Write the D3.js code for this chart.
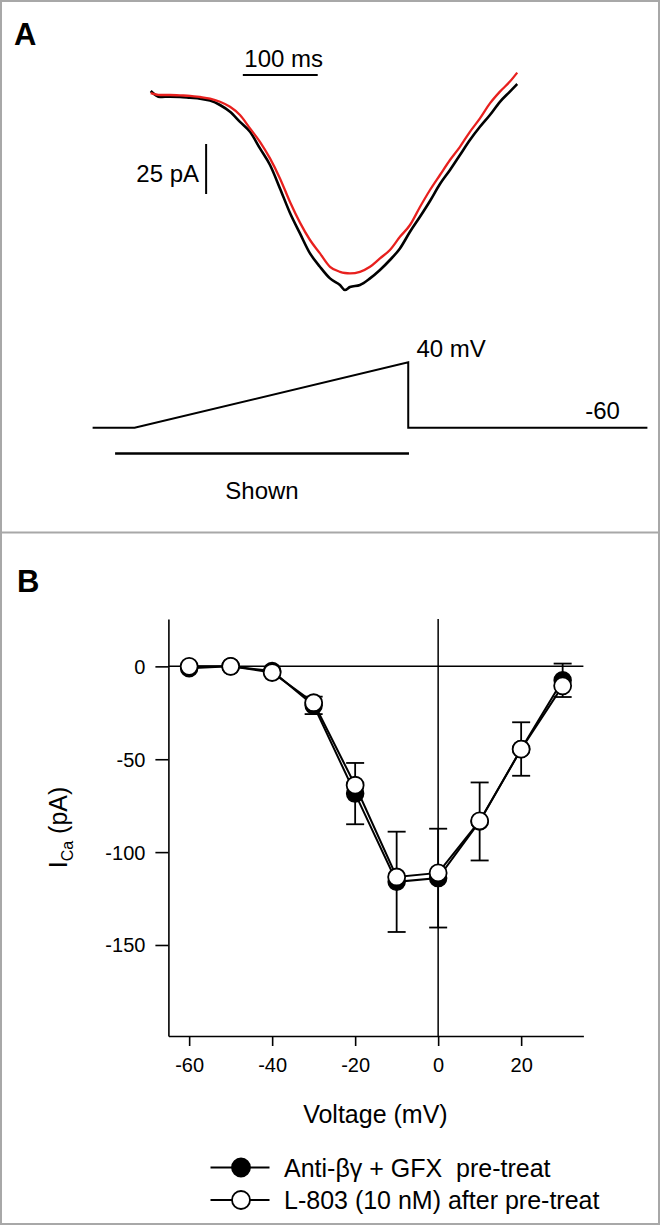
<!DOCTYPE html>
<html><head><meta charset="utf-8">
<script src="https://cdn.jsdelivr.net/npm/d3@7"></script>
<style>
html,body{margin:0;padding:0;background:#fff;}
svg text{font-family:"Liberation Sans",Arial,sans-serif;fill:#000;}
</style></head>
<body>
<svg id="chart" width="660" height="1225"></svg>
<script>
// ---------- Panel A data (ms, pA) ----------
const traceTime = [0,12.4,25.8,39.1,52.5,65.8,79.2,92.5,105.9,119.2,132.6,145.9,159.3,172.6,186,199.3,212.7,226,239.4,252.7,259.4,266,279.4,292.8,306.1,319.4,332.8,346.2,359.5,372.9,386.2,399.6,412.9,426.2,439.6,452.9,466.3,479.6,489.4];
const traceBlack = [2,-1,-0.8,-1,-1.4,-1.8,-2.8,-5,-8.4,-13.4,-18.4,-26.7,-35,-46.7,-59,-69.2,-79.2,-85.9,-91.7,-95,-97.5,-96,-95,-91.7,-87.5,-82.5,-76.7,-68.4,-60.9,-53,-44.5,-37.5,-30,-22.5,-15.9,-10,-3.4,1.7,5.5];
const traceRed   = [0.9,0,0,-0.2,-0.4,-1,-1.8,-3.4,-5.9,-10,-16.7,-23.4,-31.7,-41.7,-53.5,-63.8,-72.5,-79.2,-85.9,-88.4,-89,-89.2,-88.4,-85.9,-81.7,-77.5,-70.9,-65,-56,-47.5,-40,-32.5,-25.9,-18.4,-11.7,-4.2,1.7,6.7,11.2];
const protoTime = [0,56,421,421,740];
const protoVolt = [-60,-60,40,-60,-60];
const shownRange = [30,422];

// ---------- Panel B data ----------
const voltages = [-60,-50,-40,-30,-20,-10,0,10,20,30];
const filledI = [-1,0,-2.5,-21,-68.5,-116,-114,-83.5,-44.5,-7.5];
const filledErr = [0,0,0,4.7,16.5,27,26.6,21,14.4,9];
const openI = [0,0,-3.3,-19.6,-64,-113.4,-111.2,-83.2,-44.6,-10.5];
const xTicks = [-60,-40,-20,0,20];
const yTicks = [0,-50,-100,-150];
const legendLabels = ["Anti-\u03B2\u03B3 + GFX\u00A0 pre-treat","L-803 (10 nM) after pre-treat"];

const svg = d3.select("#chart");

// frame
svg.append("rect").attr("x",1).attr("y",1).attr("width",658).attr("height",1223)
  .attr("fill","none").attr("stroke","#a8a8a8").attr("stroke-width",2);
svg.append("line").attr("x1",0).attr("x2",660).attr("y1",532.5).attr("y2",532.5)
  .attr("stroke","#a8a8a8").attr("stroke-width",2);

// panel labels
svg.append("text").attr("x",14).attr("y",45).attr("font-size",31).attr("font-weight","bold").text("A");
svg.append("text").attr("x",17).attr("y",592).attr("font-size",31).attr("font-weight","bold").text("B");

// ---------- Panel A ----------
const tScale = d3.scaleLinear().domain([0,490]).range([150.7,517.7]);
const iScale = d3.scaleLinear().domain([0,-100]).range([95,295]);

const traceLine = (vals) => d3.line().curve(d3.curveMonotoneX).x((d,i)=>tScale(traceTime[i])).y(d=>iScale(d))(vals);
svg.append("path").attr("d",traceLine(traceBlack)).attr("fill","none").attr("stroke","#000").attr("stroke-width",2.6).attr("stroke-linejoin","round");
svg.append("path").attr("d",traceLine(traceRed)).attr("fill","none").attr("stroke","#e8201e").attr("stroke-width",2.3).attr("stroke-linejoin","round");

// scale bars
svg.append("line").attr("x1",tScale(123)).attr("x2",tScale(223)).attr("y1",75).attr("y2",75).attr("stroke","#000").attr("stroke-width",2);
svg.append("text").attr("x",tScale(125)).attr("y",67).attr("font-size",24).text("100 ms");
svg.append("line").attr("x1",tScale(74)).attr("x2",tScale(74)).attr("y1",iScale(-24.5)).attr("y2",iScale(-49.5)).attr("stroke","#000").attr("stroke-width",2);
svg.append("text").attr("x",tScale(64.5)).attr("y",182).attr("text-anchor","end").attr("font-size",24).text("25 pA");

// voltage protocol
const pScale = d3.scaleLinear().domain([0,740]).range([92.6,647.4]);
const vScale = d3.scaleLinear().domain([-60,40]).range([427.7,362.3]);
svg.append("path").attr("d",d3.line().x((d,i)=>pScale(protoTime[i])).y(d=>vScale(d))(protoVolt))
  .attr("fill","none").attr("stroke","#000").attr("stroke-width",2);
svg.append("line").attr("x1",pScale(shownRange[0])).attr("x2",pScale(shownRange[1])).attr("y1",453.5).attr("y2",453.5).attr("stroke","#000").attr("stroke-width",2.6);
svg.append("text").attr("x",pScale(432)).attr("y",357).attr("font-size",24).text("40 mV");
svg.append("text").attr("x",pScale(657)).attr("y",419).attr("font-size",24).text("-60");
svg.append("text").attr("x",(pScale(shownRange[0])+pScale(shownRange[1]))/2).attr("y",499).attr("text-anchor","middle").attr("font-size",24).text("Shown");

// ---------- Panel B ----------
const x = d3.scaleLinear().domain([-65,35]).range([168.4,583.4]);
const y = d3.scaleLinear().domain([-199,25.5]).range([1036,619]);

const fmt = d => String(d);
const gx = svg.append("g").attr("transform",`translate(0,${y(-199)})`)
  .call(d3.axisBottom(x).tickValues(xTicks).tickFormat(fmt).tickSize(10).tickSizeOuter(0).tickPadding(8));
const gy = svg.append("g").attr("transform",`translate(${x(-65)},0)`)
  .call(d3.axisLeft(y).tickValues(yTicks).tickFormat(fmt).tickSize(13).tickSizeOuter(0).tickPadding(10));
[gx,gy].forEach(g=>{
  g.selectAll("path.domain").attr("stroke","#000").attr("stroke-width",1.6);
  g.selectAll(".tick line").attr("stroke","#000").attr("stroke-width",1.6);
  g.selectAll(".tick text").attr("font-size",20).attr("font-family","Liberation Sans, Arial, sans-serif").attr("fill","#000");
});
gx.selectAll(".tick text").attr("dy","0.9em");
gy.selectAll(".tick text").attr("dy","0.35em");

// zero lines
svg.append("line").attr("x1",x(-65)).attr("x2",x(35)).attr("y1",y(0)).attr("y2",y(0)).attr("stroke","#000").attr("stroke-width",1.5);
svg.append("line").attr("x1",x(0)).attr("x2",x(0)).attr("y1",y(25.5)).attr("y2",y(-199)).attr("stroke","#000").attr("stroke-width",1.5);

// axis titles
svg.append("text").attr("x",(x(-65)+x(35))/2-0.5).attr("y",1123).attr("text-anchor","middle").attr("font-size",25).text("Voltage (mV)");
const yl = svg.append("text").attr("transform",`translate(67,${(y(25.5)+y(-199))/2}) rotate(-90)`).attr("text-anchor","middle").attr("font-size",25);
yl.append("tspan").text("I");
yl.append("tspan").attr("font-size",16).attr("dy",6).text("Ca");
yl.append("tspan").attr("dy",-6).text(" (pA)");

// error bars (filled series)
const eb = svg.append("g");
voltages.forEach((v,i)=>{
  if(!filledErr[i]) return;
  const top = y(filledI[i]+filledErr[i]), bot = y(filledI[i]-filledErr[i]);
  eb.append("line").attr("x1",x(v)).attr("x2",x(v)).attr("y1",top).attr("y2",bot).attr("stroke","#000").attr("stroke-width",1.8);
  [top,bot].forEach(yy=>eb.append("line").attr("x1",x(v)-9).attr("x2",x(v)+9).attr("y1",yy).attr("y2",yy).attr("stroke","#000").attr("stroke-width",1.8));
});

const seriesLine = (vals) => d3.line().x((d,i)=>x(voltages[i])).y(d=>y(d))(vals);
svg.append("path").attr("d",seriesLine(filledI)).attr("fill","none").attr("stroke","#000").attr("stroke-width",2);
svg.append("path").attr("d",seriesLine(openI)).attr("fill","none").attr("stroke","#000").attr("stroke-width",2);
svg.append("g").selectAll("circle").data(filledI).join("circle")
  .attr("cx",(d,i)=>x(voltages[i])).attr("cy",d=>y(d)).attr("r",8.5)
  .attr("fill","#000").attr("stroke","#000").attr("stroke-width",1.5);
svg.append("g").selectAll("circle").data(openI).join("circle")
  .attr("cx",(d,i)=>x(voltages[i])).attr("cy",d=>y(d)).attr("r",8.5)
  .attr("fill","#fff").attr("stroke","#000").attr("stroke-width",1.8);

// legend
const legY = [1167.5,1200];
legendLabels.forEach((lab,i)=>{
  const g = svg.append("g");
  g.append("line").attr("x1",210.5).attr("x2",269.5).attr("y1",legY[i]).attr("y2",legY[i]).attr("stroke","#000").attr("stroke-width",2);
  g.append("circle").attr("cx",241).attr("cy",legY[i]).attr("r",9)
    .attr("fill",i===0?"#000":"#fff").attr("stroke","#000").attr("stroke-width",1.8);
  g.append("text").attr("x",284).attr("y",legY[i]+9).attr("font-size",25).text(lab);
});
</script>
</body></html>
